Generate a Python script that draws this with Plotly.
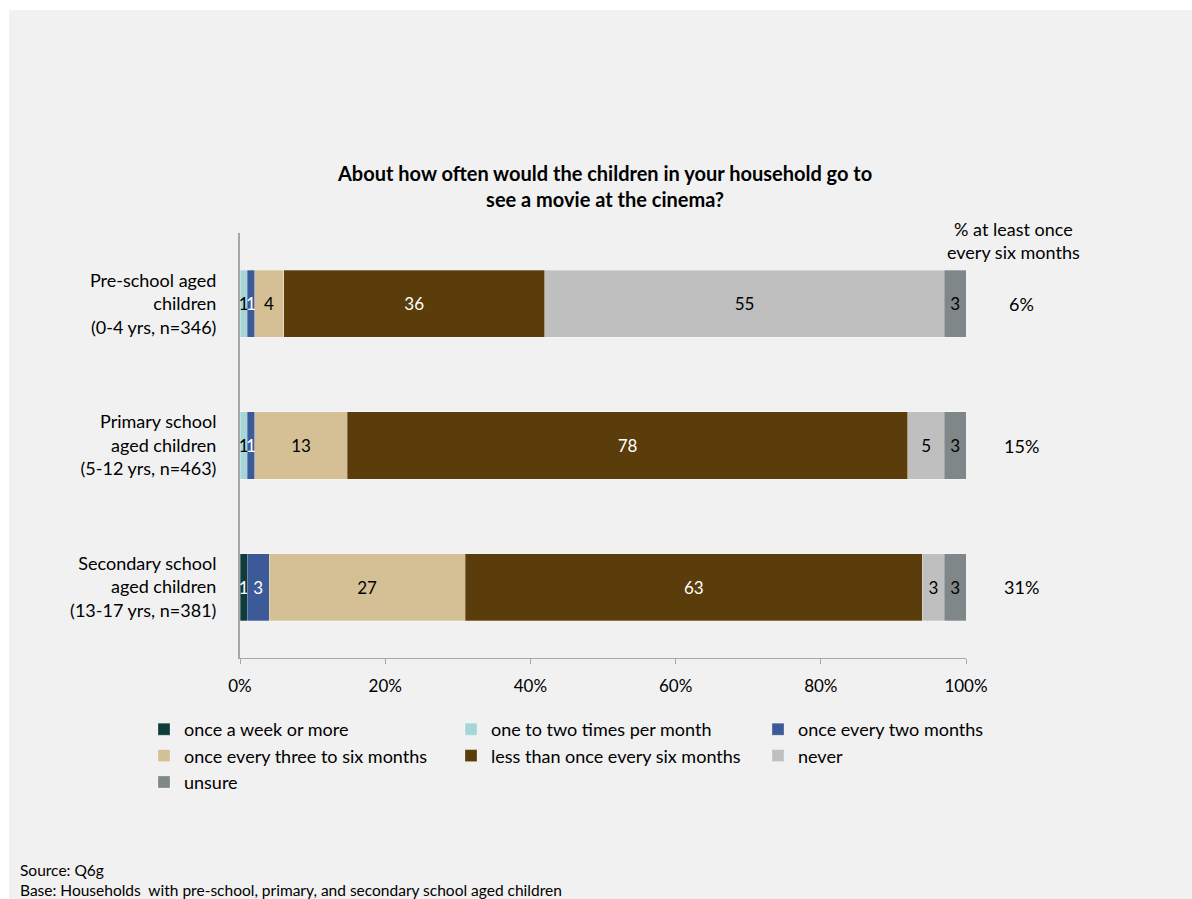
import plotly.graph_objects as go

categories = [
    "Pre-school aged<br>children<br>(0-4 yrs, n=346)",
    "Primary school<br>aged children<br>(5-12 yrs, n=463)",
    "Secondary school<br>aged children<br>(13-17 yrs, n=381)",
]
series_names = [
    "once a week or more",
    "one to two times per month",
    "once every two months",
    "once every three to six months",
    "less than once every six months",
    "never",
    "unsure",
]
# segment widths (percent)
once_a_week = [0, 0, 1]
one_to_two_month = [1, 1, 0]
every_two_months = [1, 1, 3]
three_to_six_months = [4, 12.8, 27]
less_than_six_months = [36, 77.2, 63]
never = [55, 5, 3]
unsure = [3, 3, 3]
# data labels as printed on the chart
once_a_week_lbl = ["", "", "1"]
one_to_two_month_lbl = ["1", "1", ""]
every_two_months_lbl = ["1", "1", "3"]
three_to_six_months_lbl = ["4", "13", "27"]
less_than_six_months_lbl = ["36", "78", "63"]
never_lbl = ["55", "5", "3"]
unsure_lbl = ["3", "3", "3"]
at_least_six_months = ["6%", "15%", "31%"]
tick_labels = ["0%", "20%", "40%", "60%", "80%", "100%"]
tick_values = [0, 20, 40, 60, 80, 100]

series_values = [once_a_week, one_to_two_month, every_two_months,
                 three_to_six_months, less_than_six_months, never, unsure]
series_labels = [once_a_week_lbl, one_to_two_month_lbl, every_two_months_lbl,
                 three_to_six_months_lbl, less_than_six_months_lbl, never_lbl, unsure_lbl]
colors = ["#0f3b3b", "#a7d6d9", "#3d5a98", "#d4c094", "#5a3d0a", "#bfbfbf", "#7f8788"]
text_colors = ["white", "black", "white", "black", "white", "black", "black"]

FONT = "Lato, Calibri, sans-serif"
W, H = 1192, 899
ML, MR, MT, MB = 240, 226, 233, 241
PW, PH = W - ML - MR, H - MT - MB


def px_x(p):
    return (p - ML) / PW


def px_y(p):
    return (H - MB - p) / PH


fig = go.Figure()
for name, vals, lbls, col, tcol in zip(series_names, series_values, series_labels, colors, text_colors):
    fig.add_trace(go.Bar(
        y=categories, x=vals, name=name, orientation="h",
        marker=dict(color=col, line=dict(color="rgba(255,255,255,0.35)", width=0.8)),
        text=lbls,
        textposition="inside", insidetextanchor="middle",
        constraintext="none", textangle=0,
        textfont=dict(family=FONT, size=17, color=tcol),
        hoverinfo="name+x",
    ))

annotations = [
    dict(text="<b>About how often would the children in your household go to<br>see a movie at the cinema?</b>",
         xref="paper", yref="paper", x=px_x(604), y=px_y(186), xanchor="center", yanchor="middle",
         showarrow=False, font=dict(family=FONT, size=20, color="black")),
    dict(text="% at least once<br>every six months",
         xref="paper", yref="paper", x=px_x(1013), y=px_y(240), xanchor="center", yanchor="middle",
         showarrow=False, font=dict(family=FONT, size=18, color="black")),
    dict(text="Source: Q6g<br>Base: Households  with pre-school, primary, and secondary school aged children",
         xref="paper", yref="paper", x=px_x(18), y=px_y(880), xanchor="left", yanchor="middle",
         align="left", showarrow=False, font=dict(family=FONT, size=15.5, color="black")),
]
for cat, pct in zip(categories, at_least_six_months):
    annotations.append(dict(text=pct, xref="paper", yref="y", x=px_x(1022), y=cat,
                            xanchor="center", yanchor="middle", showarrow=False,
                            font=dict(family=FONT, size=18, color="black")))

shapes = [
    dict(type="rect", xref="paper", yref="paper", x0=px_x(0), x1=px_x(W), y0=px_y(0), y1=px_y(10),
         fillcolor="white", line=dict(width=0), layer="below"),
    dict(type="rect", xref="paper", yref="paper", x0=px_x(0), x1=px_x(9), y0=px_y(0), y1=px_y(H),
         fillcolor="white", line=dict(width=0), layer="below"),
]

fig.update_layout(
    width=W, height=H, barmode="stack", bargap=0.525,
    margin=dict(l=ML, r=MR, t=MT, b=MB, pad=0),
    paper_bgcolor="#f1f1f1", plot_bgcolor="#f1f1f1",
    font=dict(family=FONT, size=17, color="black"),
    xaxis=dict(range=[0, 100], tickvals=tick_values, ticktext=tick_labels,
               showgrid=False, zeroline=False, showline=True, linecolor="#a6a6a6", linewidth=1,
               ticks="outside", ticklen=5, tickcolor="#a6a6a6", ticklabelstandoff=8,
               tickfont=dict(family=FONT, size=17, color="black"), fixedrange=True),
    yaxis=dict(categoryorder="array", categoryarray=categories, autorange="reversed",
               showgrid=False, zeroline=False, showline=True, linecolor="#a6a6a6", linewidth=2,
               ticks="", ticklabelstandoff=18,
               tickfont=dict(family=FONT, size=18, color="black")),
    legend=dict(orientation="h", x=px_x(144), y=px_y(711), xanchor="left", yanchor="top",
                entrywidth=262, entrywidthmode="pixels", traceorder="normal",
                font=dict(family=FONT, size=18, color="black"), bgcolor="rgba(0,0,0,0)",
                itemclick=False, itemdoubleclick=False),
    annotations=annotations, shapes=shapes,
    showlegend=True,
)

fig.write_html("out.html")
